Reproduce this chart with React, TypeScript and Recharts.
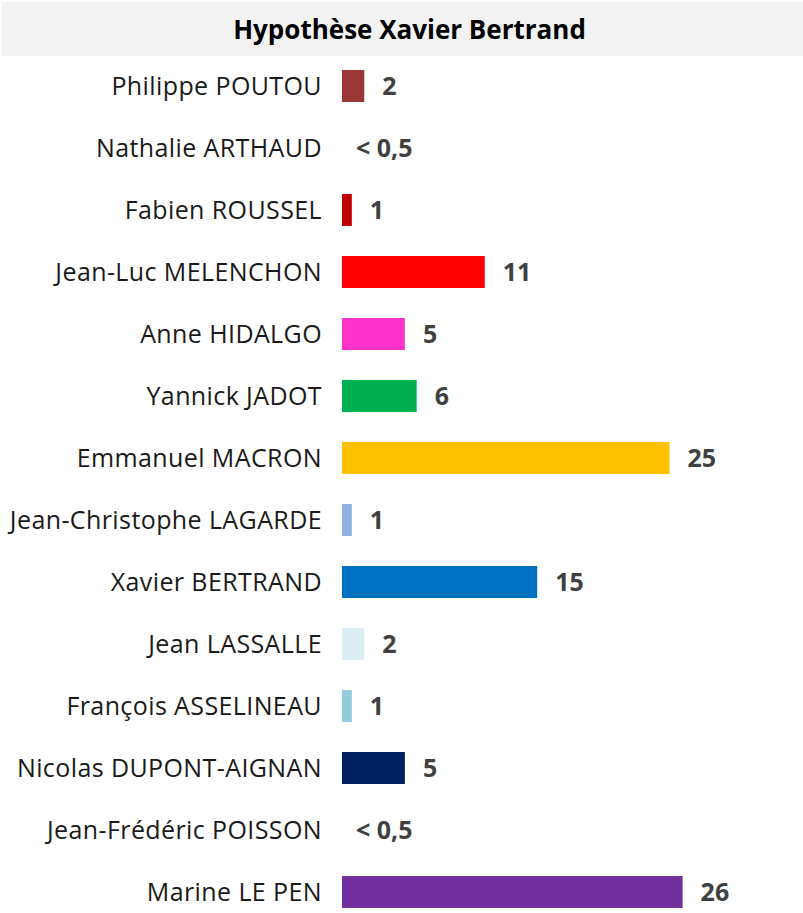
import { Bar, BarChart, Cell, LabelList, XAxis, YAxis } from "recharts"

const candidates = [
    "Philippe POUTOU",
    "Nathalie ARTHAUD",
    "Fabien ROUSSEL",
    "Jean-Luc MELENCHON",
    "Anne HIDALGO",
    "Yannick JADOT",
    "Emmanuel MACRON",
    "Jean-Christophe LAGARDE",
    "Xavier BERTRAND",
    "Jean LASSALLE",
    "François ASSELINEAU",
    "Nicolas DUPONT-AIGNAN",
    "Jean-Frédéric POISSON",
    "Marine LE PEN",
]

// bar lengths, labels are the rounded published figures
const scores = [1.7, 0.3, 0.75, 10.9, 4.8, 5.7, 25, 0.75, 14.9, 1.7, 0.75, 4.8, 0.3, 26]
const scoreLabels = ["2", "< 0,5", "1", "11", "5", "6", "25", "1", "15", "2", "1", "5", "< 0,5", "26"]
const colors = [
    "#9b3636", "#ffffff", "#c00000", "#ff0000", "#ff33cc", "#00b050", "#ffc000",
    "#8db4e2", "#0070c0", "#daeef3", "#92cddc", "#002060", "#ffffff", "#7030a0",
]

const data = candidates.map((name, i) => ({ name, value: scores[i], label: scoreLabels[i] }))

const FONT = "'Open Sans', sans-serif"

const NameTick = (props: any) => {
    const { x, y, payload } = props
    return (
        <text x={x - 12} y={y} dy={9} textAnchor="end" fill="#1a1a1a" fontSize={25} letterSpacing={0.4} fontFamily={FONT}>
            {payload.value}
        </text>
    )
}

const ValueLabel = (props: any) => {
    const { x, y, width, height, value } = props
    const small = String(value).startsWith("<")
    return (
        <text x={x + width + (small ? 10 : 18)} y={y + height / 2} dy={9} fill="#404040" fontSize={25} fontWeight="bold" fontFamily={FONT}>
            {value}
        </text>
    )
}

export default function App() {
    return (
        <div style={{ position: "absolute", left: 0, top: 0, width: 803, height: 913, overflow: "hidden", background: "#fff" }}>
            <div
                style={{
                    position: "absolute", left: 2, top: 2, width: 801, height: 54, background: "#f2f2f2",
                    display: "flex", alignItems: "center", justifyContent: "center", paddingLeft: 14, boxSizing: "border-box",
                    fontFamily: FONT, fontWeight: "bold", fontSize: 26, color: "#000",
                }}
            >
                Hypothèse Xavier Bertrand
            </div>
            <BarChart
                width={803}
                height={923}
                data={data}
                layout="vertical"
                margin={{ top: 55, right: 68, bottom: 0, left: 0 }}
                barCategoryGap={30}
            >
                <XAxis type="number" domain={[0, 30]} hide />
                <YAxis dataKey="name" type="category" width={342} axisLine={false} tickLine={false} tick={<NameTick />} interval={0} />
                <Bar dataKey="value" barSize={32} isAnimationActive={false}>
                    {data.map((d, i) => (
                        <Cell key={d.name} fill={colors[i]} />
                    ))}
                    <LabelList dataKey="label" content={<ValueLabel />} />
                </Bar>
            </BarChart>
        </div>
    )
}
